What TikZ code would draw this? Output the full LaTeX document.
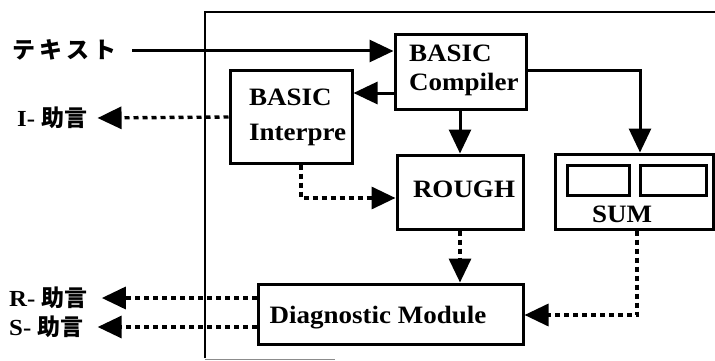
\documentclass[tikz,border=0pt]{standalone}
\usepackage{fontspec}
\setmainfont{Liberation Serif}[FakeStretch=1.08]
\newfontfamily\jp{Noto Sans CJK JP}
\usetikzlibrary{arrows.meta,calc}

\tikzset{
  x=1pt, y=-1pt,
  blk/.style={draw, line width=3pt, rectangle, inner sep=0pt},
  lbl/.style={font=\fontsize{25}{29}\selectfont\bfseries, inner sep=0pt},
  jlbl/.style={font=\fontsize{23}{27}\selectfont\bfseries, inner sep=0pt, anchor=west},
  tip/.style={-{Triangle[length=24pt,width=22pt]}},
  solid flow/.style={tip, line width=3pt},
  dot flow/.style={tip, line width=3.4pt, dash pattern=on 5pt off 4pt},
}

\begin{document}
\begin{tikzpicture}
\useasboundingbox (0,0) rectangle (715,361);

% enclosing frame
\draw[line width=2.6pt] (205,358) -- (205,12) -- (716,12);
\draw[line width=0.8pt, black!45] (205,359.5) -- (335,359.5);

% blocks
\node[blk, minimum width=131pt, minimum height=74pt] (comp) at (460.5,72) {};
\node[lbl, align=left, anchor=west] (compt) at (409,70) {BASIC\\[0pt]Compiler};

\node[blk, minimum width=122pt, minimum height=92pt] (interp) at (291,117) {};
\node[lbl, anchor=west] (interpA) at (249,97) {BASIC};
\node[lbl, anchor=west] (interpB) at (249,135) {Interpre};

\node[blk, minimum width=126pt, minimum height=74pt] (rough) at (460,192) {};
\node[lbl] (rought) at (464,189) {ROUGH};

\node[blk, minimum width=158pt, minimum height=75pt] (sum) at (634,191.5) {};
\node[blk, minimum width=62pt, minimum height=30pt] (sumA) at (598,180) {};
\node[blk, minimum width=66pt, minimum height=30pt] (sumB) at (673,180) {};
\node[lbl] (sumt) at (622,214) {SUM};

\node[blk, minimum width=265pt, minimum height=60pt] (diag) at (390.5,314) {};
\node[lbl] (diagt) at (378,318) {Diagnostic Module};

% external labels
\node[jlbl] (txt) at (12,50) {\jp テ\hspace{4pt}キ\hspace{4pt}ス\hspace{4pt}ト};
\node[jlbl] (iadv) at (17,118) {I- {\jp 助言}};
\node[jlbl] (radv) at (9,298) {R- {\jp 助言}};
\node[jlbl] (sadv) at (9,327) {S- {\jp 助言}};

% solid flows
\coordinate (inA) at (132,51);
\draw[solid flow] (inA) -- (comp.west |- inA);
\draw[solid flow] ($(comp.west)+(0,21)$) -- (interp.east |- {$(comp.west)+(0,21)$});
\draw[solid flow] (rough.north |- comp.south) -- (rough.north);
\coordinate (cs) at (640,71);
\draw[solid flow] (comp.east |- cs) -- (cs) -- (cs |- sum.north);

% dotted flows
\draw[dot flow] (interp.west) -- ([xshift=10pt]iadv.east);
\coordinate (ib) at (301,198);
\draw[dot flow] (ib |- interp.south) -- (ib) -- (rough.west |- ib);
\draw[dot flow] (rough.south) -- (rough.south |- diag.north);
\coordinate (sb) at (637,315);
\draw[dot flow] (sb |- sum.south) -- (sb) -- (diag.east |- sb);
\draw[dot flow] (diag.west |- radv.east) -- ([xshift=14pt]radv.east);
\draw[dot flow] (diag.west |- sadv.east) -- ([xshift=14pt]sadv.east);
\end{tikzpicture}
\end{document}
